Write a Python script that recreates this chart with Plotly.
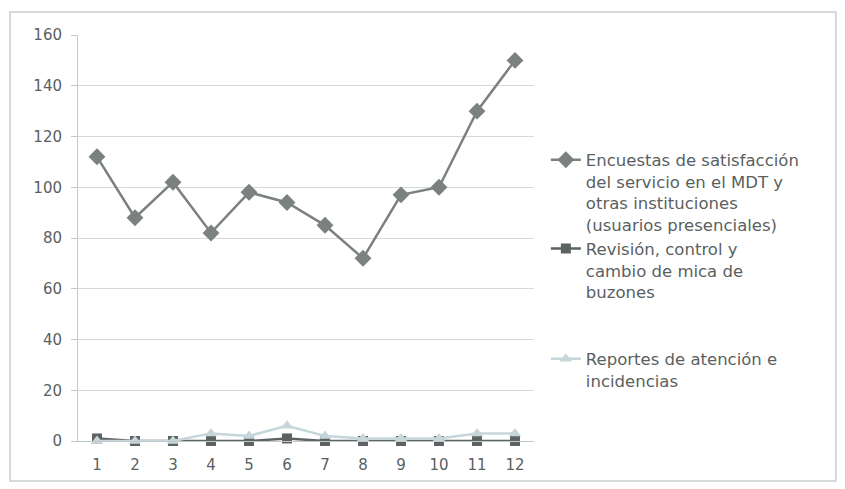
import plotly.graph_objects as go

months = ["1", "2", "3", "4", "5", "6", "7", "8", "9", "10", "11", "12"]
encuestas = [112, 88, 102, 82, 98, 94, 85, 72, 97, 100, 130, 150]
revision = [1, 0, 0, 0, 0, 1, 0, 0, 0, 0, 0, 0]
reportes = [0, 0, 0, 3, 2, 6, 2, 1, 1, 1, 3, 3]
y_ticks = [0, 20, 40, 60, 80, 100, 120, 140, 160]

names = [
    "Encuestas de satisfacción<br>del servicio en el MDT y<br>otras instituciones<br>(usuarios presenciales)",
    "Revisión, control y<br>cambio de mica de<br>buzones<br> <br> ",
    "Reportes de atención e<br>incidencias",
]

FONT = "DejaVu Sans"
TXT = "#5a5f5f"
fig = go.Figure()
fig.add_trace(go.Scatter(
    x=months, y=encuestas, mode="lines+markers", name=names[0],
    line=dict(color="#7b8181", width=2.5),
    marker=dict(symbol="diamond", size=13, color="#7b8181"),
    cliponaxis=False,
))
fig.add_trace(go.Scatter(
    x=months, y=revision, mode="lines+markers", name=names[1],
    line=dict(color="#5d6262", width=2.5),
    marker=dict(symbol="square", size=10, color="#5d6262"),
    cliponaxis=False,
))
fig.add_trace(go.Scatter(
    x=months, y=reportes, mode="lines+markers", name=names[2],
    line=dict(color="#c7d6da", width=2.5),
    marker=dict(symbol="triangle-up", size=11, color="#c7d6da"),
    cliponaxis=False,
))

fig.update_layout(
    width=837, height=481,
    margin=dict(l=70, r=311, t=27, b=48),
    paper_bgcolor="white", plot_bgcolor="white",
    font=dict(family=FONT, size=16, color=TXT),
    showlegend=True,
    legend=dict(x=1.026, y=0.735, xanchor="left", yanchor="top",
                valign="top", font=dict(family=FONT, size=16.5, color=TXT),
                bgcolor="rgba(0,0,0,0)", itemwidth=30),
    shapes=[dict(type="rect", xref="paper", yref="paper",
                 x0=-0.149, x1=1.662, y0=-0.0985, y1=1.0567,
                 line=dict(color="#c9cfcf", width=1.5), layer="below")],
)
fig.update_xaxes(type="category", range=[-0.5, 11.5], showgrid=False,
                 showline=True, linecolor="#c3c8c8", linewidth=1,
                 ticks="", ticklabelstandoff=10,
                 tickfont=dict(family=FONT, size=15, color=TXT))
fig.update_yaxes(range=[0, 160], tickvals=y_ticks, showgrid=True,
                 gridcolor="#d5d9d9", gridwidth=1, showline=True,
                 linecolor="#c3c8c8", ticks="outside", tickcolor="#c3c8c8",
                 ticklen=6, ticklabelstandoff=6, zeroline=False,
                 tickfont=dict(family=FONT, size=15, color=TXT))

fig.write_html("out.html")
